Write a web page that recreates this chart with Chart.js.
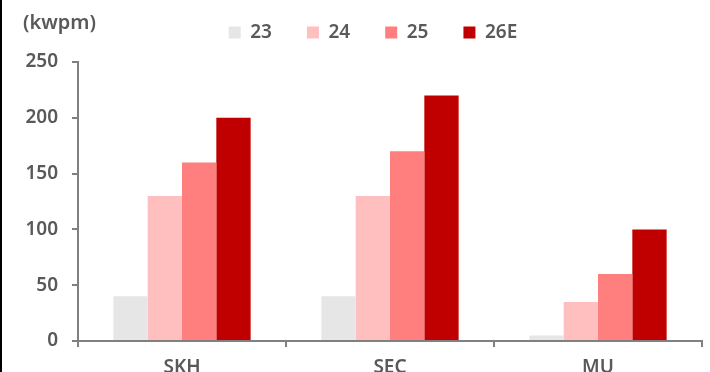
<!DOCTYPE html>
<html>
<head>
<meta charset="utf-8">
<script src="https://cdn.jsdelivr.net/npm/chart.js"></script>
<style>
  html, body { margin: 0; padding: 0; background: #ffffff; overflow: hidden; }
  #wrap { position: relative; width: 710px; height: 385px; border-left: 2px solid #000; box-sizing: border-box; }
</style>
</head>
<body>
<div id="wrap"><canvas id="chart"></canvas></div>
<script>
// categories, series and tick values
const companies = ['SKH', 'SEC', 'MU'];
const years = ['23', '24', '25', '26E'];
const cap23 = [40, 40, 5];
const cap24 = [130, 130, 35];
const cap25 = [160, 170, 60];
const cap26E = [200, 220, 100];
const yTicks = [0, 50, 100, 150, 200, 250];
const unitLabel = '(kwpm)';

const colours = ['#e6e6e6', '#ffbfbf', '#ff7f7f', '#c00000'];
const txt = '#595959';
const axisCol = '#808080';
const fam = '"Noto Sans", sans-serif';
const tickFont = { family: fam, size: 19, weight: '600' };

// unit label above the y axis
const unitPlugin = {
  id: 'unit',
  afterDraw(chart) {
    const c = chart.ctx;
    c.save();
    c.font = '600 20px ' + fam;
    c.fillStyle = txt;
    c.textAlign = 'left';
    c.textBaseline = 'middle';
    c.fillText(unitLabel, 21, 23);
    c.restore();
  }
};

// legend sits higher and a bit right of the default spot
const legendTweak = {
  id: 'legendTweak',
  beforeInit(chart) {
    const lg = chart.legend;
    const fit = lg.fit;
    lg.fit = function () { fit.call(this); this.height = 62; };
  },
  afterLayout(chart) {
    const lg = chart.legend;
    lg.top -= 12; lg.bottom -= 12;
    lg.left += 19; lg.right += 19;
  }
};

new Chart(document.getElementById('chart'), {
  type: 'bar',
  data: {
    labels: companies,
    datasets: [cap23, cap24, cap25, cap26E].map((d, i) => ({
      label: years[i],
      data: d,
      backgroundColor: colours[i],
      borderWidth: 0,
      categoryPercentage: 0.66,
      barPercentage: 1.0
    }))
  },
  options: {
    responsive: true,
    maintainAspectRatio: false,
    animation: false,
    layout: { padding: { left: 4, right: 8, top: 0, bottom: 0 } },
    plugins: {
      legend: {
        position: 'top',
        labels: {
          boxWidth: 12, boxHeight: 12, padding: 35,
          color: txt,
          font: tickFont
        }
      },
      tooltip: { enabled: false }
    },
    scales: {
      x: {
        offset: true,
        grid: { display: true, offset: true, drawOnChartArea: false, tickLength: 6, color: axisCol, lineWidth: 2 },
        border: { color: axisCol, width: 2 },
        ticks: { color: txt, padding: 9, font: tickFont },
        afterFit(s) { s.height = 44; }
      },
      y: {
        min: 0, max: 250,
        afterBuildTicks(s) { s.ticks = yTicks.map(v => ({ value: v })); },
        grid: { drawOnChartArea: false, tickLength: 6, color: axisCol, lineWidth: 2 },
        border: { color: axisCol, width: 2 },
        ticks: { color: txt, padding: 14, font: tickFont },
        afterFit(s) { s.width = 72; }
      }
    }
  },
  plugins: [unitPlugin, legendTweak]
});
</script>
</body>
</html>
